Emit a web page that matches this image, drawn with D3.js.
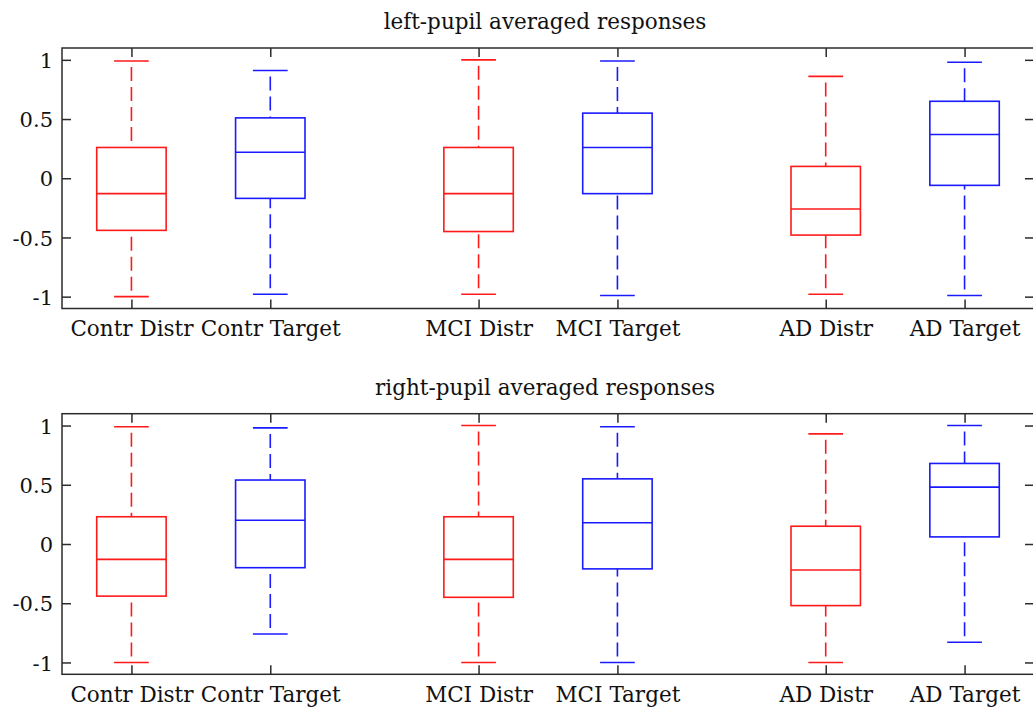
<!DOCTYPE html>
<html>
<head>
<meta charset="utf-8">
<script src="https://cdn.jsdelivr.net/npm/d3@7"></script>
<style>
  html, body { margin: 0; padding: 0; background: #fff; }
  svg { display: block; }
  text { font-family: "DejaVu Serif", "Liberation Serif", serif; fill: #111; }
</style>
</head>
<body>
<script>
// Subject groups and stimulus conditions, one box per pair
const groups = ["Contr", "MCI", "AD"];
const conditions = ["Distr", "Target"];
const categories = ["Contr Distr", "Contr Target", "MCI Distr", "MCI Target", "AD Distr", "AD Target"];

// Left pupil: whisker ends, quartiles and medians
const leftLower  = [-1.00, -0.98, -0.98, -0.99, -0.98, -0.99];
const leftQ1     = [-0.44, -0.17, -0.45, -0.13, -0.48, -0.06];
const leftMedian = [-0.13,  0.22, -0.13,  0.26, -0.26,  0.37];
const leftQ3     = [ 0.26,  0.51,  0.26,  0.55,  0.10,  0.65];
const leftUpper  = [ 0.99,  0.91,  1.00,  0.99,  0.86,  0.98];

// Right pupil: whisker ends, quartiles and medians
const rightLower  = [-1.00, -0.76, -1.00, -1.00, -1.00, -0.83];
const rightQ1     = [-0.44, -0.20, -0.45, -0.21, -0.52,  0.06];
const rightMedian = [-0.13,  0.20, -0.13,  0.18, -0.22,  0.48];
const rightQ3     = [ 0.23,  0.54,  0.23,  0.55,  0.15,  0.68];
const rightUpper  = [ 0.99,  0.98,  1.00,  0.99,  0.93,  1.00];

const yTickValues = [-1, -0.5, 0, 0.5, 1];
const yTickLabels = ["-1", "-0.5", "0", "0.5", "1"];

const panels = [
  { title: "left-pupil averaged responses",
    lower: leftLower, q1: leftQ1, median: leftMedian, q3: leftQ3, upper: leftUpper },
  { title: "right-pupil averaged responses",
    lower: rightLower, q1: rightQ1, median: rightMedian, q3: rightQ3, upper: rightUpper }
];

const W = 1033, H = 709;
const condColor = { Distr: "#ff1a1a", Target: "#1a1aff" };
const axisColor = "#2b2b2b";
const tickFont = 21;
const labelFont = 21.5;
const tickLen = 9;

// Box centres: groups sit 2.5 units apart, conditions 1 unit apart
const positions = categories.map((c, i) => {
  const g = Math.floor(i / conditions.length), k = i % conditions.length;
  return 1 + g * 2.5 + k;
});
const condOf = categories.map((c, i) => conditions[i % conditions.length]);

const svg = d3.select("body").append("svg").attr("width", W).attr("height", H);

const frames = [
  { left: 62, right: 1034, top: 48, bottom: 308.5 },
  { left: 62, right: 1034, top: 413.7, bottom: 674.3 }
];

panels.forEach((p, pi) => {
  const f = frames[pi];
  const x = d3.scaleLinear().domain([0.5, 7.5]).range([f.left, f.right]);
  const y = d3.scaleLinear().domain([-1.1, 1.1]).range([f.bottom, f.top]);
  const g = svg.append("g");

  // Title
  g.append("text")
    .attr("x", (f.left + f.right) / 2 - 3)
    .attr("y", f.top - 19)
    .attr("text-anchor", "middle")
    .style("font-size", labelFont + "px")
    .text(p.title);

  // Axes with inward ticks on all four sides
  const styleAxis = (sel, size) => {
    sel.select(".domain").remove();
    sel.selectAll(".tick line").attr("stroke", axisColor).attr("stroke-width", 1.5);
    sel.selectAll(".tick text").style("font-size", size + "px")
      .style("font-family", "'DejaVu Serif', 'Liberation Serif', serif").attr("fill", "#111");
  };

  g.append("g").attr("transform", `translate(${f.left},0)`)
    .call(d3.axisLeft(y).tickValues(yTickValues).tickFormat((d, i) => yTickLabels[i])
      .tickSize(-tickLen).tickPadding(9))
    .call(styleAxis, tickFont)
    .selectAll(".tick text").attr("dy", "0.36em");

  g.append("g").attr("transform", `translate(${f.right},0)`)
    .call(d3.axisRight(y).tickValues(yTickValues).tickFormat("").tickSize(-tickLen))
    .call(styleAxis, tickFont);

  g.append("g").attr("transform", `translate(0,${f.bottom})`)
    .call(d3.axisBottom(x).tickValues(positions).tickFormat((d, i) => categories[i])
      .tickSize(-tickLen).tickPadding(12))
    .call(styleAxis, labelFont);

  g.append("g").attr("transform", `translate(0,${f.top})`)
    .call(d3.axisTop(x).tickValues(positions).tickFormat("").tickSize(-tickLen))
    .call(styleAxis, tickFont);

  // Frame
  g.append("rect")
    .attr("x", f.left).attr("y", f.top)
    .attr("width", f.right - f.left).attr("height", f.bottom - f.top)
    .attr("fill", "none").attr("stroke", axisColor).attr("stroke-width", 1.5);

  // Boxes
  const boxHalf = (x(1.25) - x(1)) ;
  const capHalf = (x(1.125) - x(1));
  const data = categories.map((c, i) => ({
    pos: positions[i], color: condColor[condOf[i]],
    lo: p.lower[i], q1: p.q1[i], med: p.median[i], q3: p.q3[i], hi: p.upper[i]
  }));

  const b = g.selectAll(".box").data(data).join("g").attr("class", "box")
    .attr("stroke", d => d.color).attr("fill", "none").attr("stroke-width", 1.6);

  // dashed whiskers
  b.append("line")
    .attr("x1", d => x(d.pos)).attr("x2", d => x(d.pos))
    .attr("y1", d => y(d.hi)).attr("y2", d => y(d.q3))
    .attr("stroke-dasharray", "14,6").attr("stroke-dashoffset", -6);
  b.append("line")
    .attr("x1", d => x(d.pos)).attr("x2", d => x(d.pos))
    .attr("y1", d => y(d.lo)).attr("y2", d => y(d.q1))
    .attr("stroke-dasharray", "14,6").attr("stroke-dashoffset", -6);

  // whisker caps
  b.append("line")
    .attr("x1", d => x(d.pos) - capHalf).attr("x2", d => x(d.pos) + capHalf)
    .attr("y1", d => y(d.hi)).attr("y2", d => y(d.hi));
  b.append("line")
    .attr("x1", d => x(d.pos) - capHalf).attr("x2", d => x(d.pos) + capHalf)
    .attr("y1", d => y(d.lo)).attr("y2", d => y(d.lo));

  // interquartile box and median
  b.append("rect")
    .attr("x", d => x(d.pos) - boxHalf).attr("width", 2 * boxHalf)
    .attr("y", d => y(d.q3)).attr("height", d => y(d.q1) - y(d.q3))
    .attr("fill", "#fff");
  b.append("line")
    .attr("x1", d => x(d.pos) - boxHalf).attr("x2", d => x(d.pos) + boxHalf)
    .attr("y1", d => y(d.med)).attr("y2", d => y(d.med));
});
</script>
</body>
</html>
